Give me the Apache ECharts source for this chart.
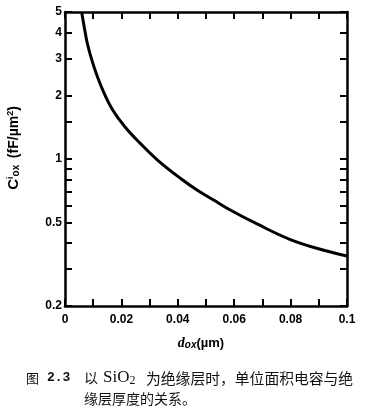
<!DOCTYPE html>
<html>
<head>
<meta charset="utf-8">
<script src="https://cdn.jsdelivr.net/npm/echarts@6/dist/echarts.min.js"></script>
<style>
html,body{margin:0;padding:0;background:#fff;}
#chart{width:382px;height:414px;}
</style>
</head>
<body>
<div id="chart"></div>
<script>
// Oxide thickness d_ox (µm) and capacitance per unit area (fF/µm²)
const thickness = [0.0059, 0.0068, 0.0079, 0.0095, 0.0115, 0.0139, 0.0169, 0.0213, 0.0266, 0.0328, 0.0409, 0.0468, 0.0527, 0.0586, 0.0681, 0.0799, 0.0918, 0.1];
const capacitance = [5.0, 4.26, 3.55, 2.96, 2.46, 2.05, 1.71, 1.42, 1.19, 0.989, 0.81, 0.712, 0.638, 0.572, 0.491, 0.414, 0.368, 0.346];

const xLabelValues = [0, 0.02, 0.04, 0.06, 0.08, 0.1];
const xTickValues = [0, 0.01, 0.02, 0.03, 0.04, 0.05, 0.06, 0.07, 0.08, 0.09, 0.1];
const yLabelValues = [0.2, 0.5, 1, 2, 3, 4, 5];
const yTickValues = [0.2, 0.3, 0.4, 0.5, 0.6, 0.7, 0.8, 0.9, 1, 1.5, 2, 3, 4, 5];

const captionLine1 = '为绝缘层时，单位面积电容与绝';
const captionLine2 = '缘层厚度的关系。';

const chart = echarts.init(document.getElementById('chart'), null, {renderer: 'canvas'});
const fmt = v => String(+(+v).toPrecision(3));
const axisLine = {show: true, onZero: false, lineStyle: {color: '#000', width: 2.5}};
const tickStyle = {color: '#000', width: 2};
const labelFont = {color: '#000', fontSize: 12, fontWeight: 'bold', fontFamily: 'Liberation Sans, Arial, sans-serif'};

const option = {
  animation: false,
  backgroundColor: '#fff',
  grid: {left: 65, right: 35, top: 12, bottom: 108, containLabel: false},
  xAxis: [
    {
      type: 'value', position: 'bottom', min: 0, max: 0.1, interval: 0.02,
      axisLine: axisLine,
      axisTick: {show: true, inside: true, length: 7, lineStyle: tickStyle, customValues: xTickValues},
      axisLabel: Object.assign({show: true, margin: 8, formatter: fmt, customValues: xLabelValues}, labelFont),
      splitLine: {show: false}
    },
    {
      type: 'value', position: 'top', min: 0, max: 0.1, interval: 0.02,
      axisLine: axisLine,
      axisTick: {show: true, inside: true, length: 7, lineStyle: tickStyle, customValues: xTickValues},
      axisLabel: {show: false},
      splitLine: {show: false}
    }
  ],
  yAxis: [
    {
      type: 'log', logBase: 10, position: 'left', min: 0.2, max: 5,
      axisLine: axisLine,
      axisTick: {show: true, inside: true, length: 7, lineStyle: tickStyle, customValues: yTickValues},
      axisLabel: Object.assign({show: true, margin: 3, formatter: fmt, customValues: yLabelValues}, labelFont),
      splitLine: {show: false},
      minorTick: {show: false}
    },
    {
      type: 'log', logBase: 10, position: 'right', min: 0.2, max: 5,
      axisLine: axisLine,
      axisTick: {show: true, inside: true, length: 7, lineStyle: tickStyle, customValues: yTickValues},
      axisLabel: {show: false},
      splitLine: {show: false}
    }
  ],
  series: [{
    type: 'line',
    xAxisIndex: 0, yAxisIndex: 0,
    data: thickness.map((d, i) => [d, capacitance[i]]),
    smooth: 0.4,
    showSymbol: false,
    symbol: 'none',
    clip: true,
    lineStyle: {color: '#000', width: 3}
  }],
  graphic: [
    {
      type: 'text', x: 14, y: 148, rotation: Math.PI / 2,
      style: {
        text: '{c|C}{sup|i}{sub|ox}  {u|(fF/µm}{sup|2}{u|)}',
        align: 'center', verticalAlign: 'middle',
        rich: {
          c: {fontSize: 15, fontWeight: 'bold', fontFamily: 'Liberation Sans, sans-serif', fill: '#000'},
          sup: {fontSize: 9, fontWeight: 'bold', verticalAlign: 'top', fontFamily: 'Liberation Sans, sans-serif', fill: '#000'},
          sub: {fontSize: 10, fontWeight: 'bold', verticalAlign: 'bottom', fontFamily: 'Liberation Sans, sans-serif', fill: '#000'},
          u: {fontSize: 14, fontWeight: 'bold', fontFamily: 'Liberation Sans, sans-serif', fill: '#000'}
        }
      }
    },
    {
      type: 'text', x: 201, y: 343,
      style: {
        text: '{d|d}{sub|ox}{u|(µm)}',
        align: 'center', verticalAlign: 'middle',
        rich: {
          d: {fontSize: 14, fontWeight: 'bold', fontStyle: 'italic', fontFamily: 'Liberation Serif, serif', fill: '#000'},
          sub: {fontSize: 10, fontWeight: 'bold', fontStyle: 'italic', verticalAlign: 'bottom', fontFamily: 'Liberation Sans, sans-serif', fill: '#000'},
          u: {fontSize: 13, fontWeight: 'bold', fontFamily: 'Liberation Sans, sans-serif', fill: '#000'}
        }
      }
    },
    {
      type: 'text', x: 26, y: 378,
      style: {text: '图', fontSize: 13, fontFamily: 'Noto Sans CJK SC', fill: '#111', verticalAlign: 'middle'}
    },
    {
      type: 'text', x: 47, y: 378,
      style: {text: '2.3', fontSize: 13, fontWeight: 'bold', fontFamily: 'Liberation Mono, DejaVu Sans Mono, monospace', fill: '#111', verticalAlign: 'middle'}
    },
    {
      type: 'text', x: 84, y: 378,
      style: {text: '以', fontSize: 14, fontFamily: 'Noto Sans CJK SC', fill: '#111', verticalAlign: 'middle'}
    },
    {
      type: 'text', x: 103, y: 378,
      style: {
        text: '{s|SiO}{sub|2}',
        verticalAlign: 'middle',
        rich: {
          s: {fontSize: 17, fontFamily: 'Liberation Serif, serif', fill: '#111'},
          sub: {fontSize: 12, fontFamily: 'Liberation Serif, serif', verticalAlign: 'bottom', fill: '#111'}
        }
      }
    },
    {
      type: 'text', x: 146, y: 378,
      style: {text: captionLine1, fontSize: 14.8, fontFamily: 'Noto Sans CJK SC', fill: '#111', verticalAlign: 'middle'}
    },
    {
      type: 'text', x: 84, y: 399,
      style: {text: captionLine2, fontSize: 14, fontFamily: 'Noto Sans CJK SC', fill: '#111', verticalAlign: 'middle'}
    }
  ]
};
chart.setOption(option);
</script>
</body>
</html>
